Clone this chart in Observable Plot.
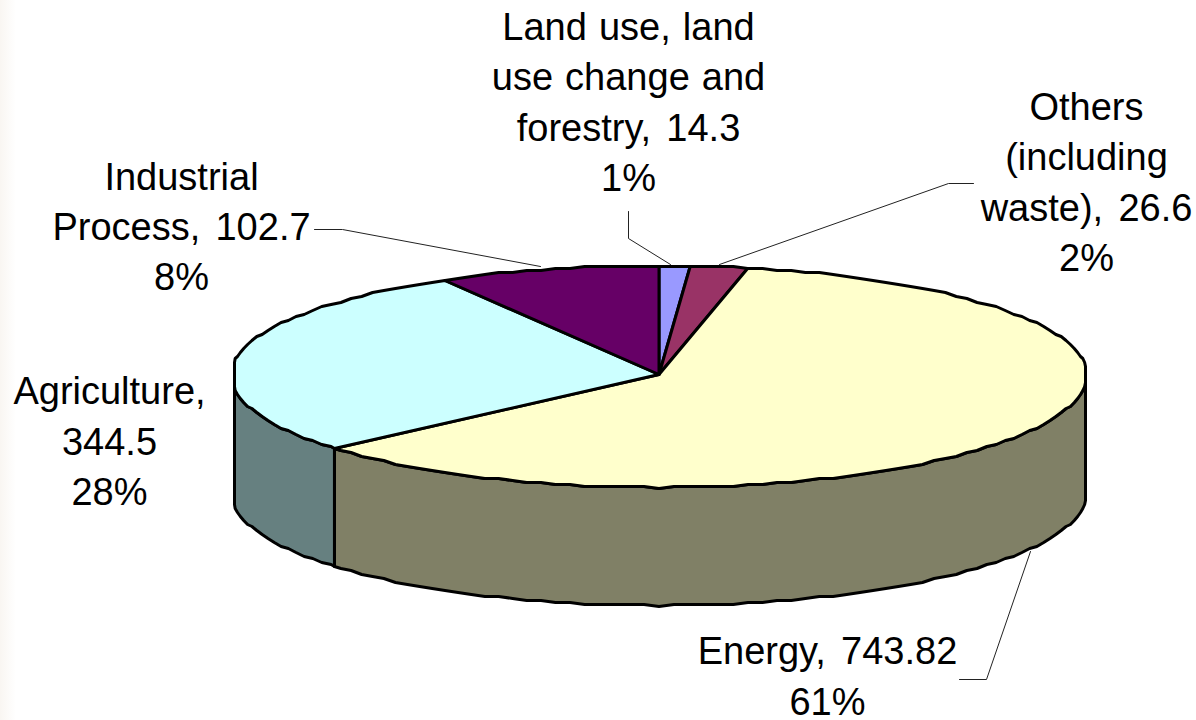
<!DOCTYPE html>
<html>
<head>
<meta charset="utf-8">
<script src="https://cdn.jsdelivr.net/npm/d3@7"></script>
<script src="https://cdn.jsdelivr.net/npm/@observablehq/plot@0.6"></script>
<style>
html,body{margin:0;padding:0;background:linear-gradient(to right,#f9f6f2 0,#ffffff 16px);}
svg text{word-spacing:1.5px;}
</style>
</head>
<body>
<div id="chart"></div>
<script>
// Data, clockwise from twelve o'clock
const categories = ["Land use, land\nuse change and\nforestry", "Others\n(including\nwaste)", "Energy", "Agriculture", "Industrial\nProcess"];
const values = [14.3, 26.6, 743.82, 344.5, 102.7];
const percents = ["1%", "2%", "61%", "28%", "8%"];
const valueLabels = ["14.3", "26.6", "743.82", "344.5", "102.7"];
const breakBefore = [false, false, false, true, false];
const topColors = ["#9999ff", "#993366", "#ffffcc", "#ccffff", "#660066"];
const sideColors = ["#4d4d80", "#4d1a33", "#808066", "#668080", "#330033"];

// Label layout
const labelX = [628, 1086, 827, 109, 181];
const labelY = [99, 179, 673, 438, 223.5];
const leaders = [
  [[628, 211], [628, 238], [670, 264]],
  [[719, 264], [948, 183], [973, 183]],
  [[1030, 551], [986, 679], [959, 679]],
  [[314, 229], [342, 229], [540, 266]]
];

// Pie geometry
const cx = 658.5, cy = 374, rx = 428, xMin = 234, xMax = 1085, ryBack = 109, ryFront = 113, depth = 118, grid = 2;
const total = d3.sum(values);
const point = (deg, drop = 0) => {
  const a = deg * Math.PI / 180, c = Math.cos(a);
  const y = cy - c * (c > 0 ? ryBack : ryFront) + drop;
  return {x: Math.max(xMin, Math.min(xMax, cx + rx * Math.sin(a))), y: Math.round(y / grid) * grid};
};
const arcDegrees = (a0, a1) => {
  const out = [a0];
  for (let d = Math.ceil(a0 / 2) * 2; d < a1; d += 2) if (d > a0) out.push(d);
  out.push(a1);
  return out;
};

let cum = 0;
const slices = values.map((v, i) => {
  const a0 = cum / total * 360; cum += v; const a1 = cum / total * 360;
  return {i, a0, a1};
});

const tops = [], walls = [];
for (const s of slices) {
  const rim = arcDegrees(s.a0, s.a1).map(d => point(d));
  const hub = {x: cx, y: cy};
  for (const p of [hub, ...rim, hub]) tops.push({...p, id: s.i, color: topColors[s.i]});
  // only the front half (90 to 270 degrees) shows a wall
  const w0 = Math.max(s.a0, 90), w1 = Math.min(s.a1, 270);
  if (w1 > w0) {
    const deg = arcDegrees(w0, w1);
    const ring = [...deg.map(d => point(d)), ...deg.slice().reverse().map(d => point(d, depth))];
    for (const p of [...ring, ring[0]]) walls.push({...p, id: s.i, color: sideColors[s.i]});
  }
}

const labels = categories.map((c, i) => ({
  x: labelX[i], y: labelY[i],
  text: c + "," + (breakBefore[i] ? "\n" : "\u200a ") + valueLabels[i] + "\n" + percents[i]
}));
const leaderRows = leaders.flatMap((l, id) => l.map(([x, y]) => ({x, y, id})));

const plot = Plot.plot({
  width: 1196, height: 720, margin: 0,
  x: {type: "linear", domain: [0, 1196], range: [0, 1196], axis: null},
  y: {type: "linear", domain: [0, 720], range: [0, 720], axis: null},
  color: {type: "identity"},
  style: {background: "transparent", fontFamily: "'Liberation Sans', Arial, sans-serif"},
  marks: [
    Plot.line(leaderRows, {x: "x", y: "y", z: "id", stroke: "#222", strokeWidth: 1, curve: "linear"}),
    Plot.line(walls, {x: "x", y: "y", z: "id", fill: "color", stroke: "#000", strokeWidth: 3, curve: "linear", strokeLinejoin: "round"}),
    Plot.line(tops, {x: "x", y: "y", z: "id", fill: "color", stroke: "#000", strokeWidth: 3, curve: "linear", strokeLinejoin: "round"}),
    Plot.text(labels, {x: "x", y: "y", text: "text", fontSize: 38, lineHeight: 1.325, fill: "#000", textAnchor: "middle", lineAnchor: "middle"})
  ]
});
document.getElementById("chart").appendChild(plot);
</script>
</body>
</html>
